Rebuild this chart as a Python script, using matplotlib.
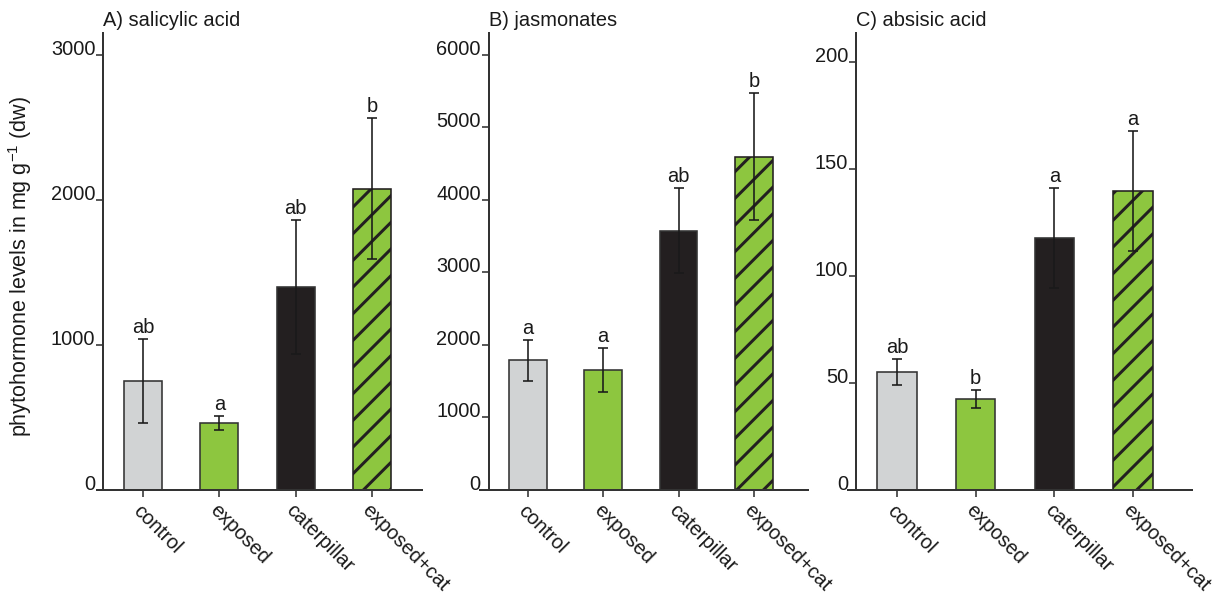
import matplotlib
matplotlib.use("Agg")
import matplotlib.pyplot as plt
from matplotlib.ticker import FixedLocator

# ---- data -------------------------------------------------------------
categories = ["control", "exposed", "caterpillar", "exposed+cat"]

sa_mean = [752, 462, 1400, 2076]
sa_err = [288, 48, 460, 487]
sa_letters = ["ab", "a", "ab", "b"]

ja_mean = [1788, 1650, 3576, 4594]
ja_err = [283, 303, 585, 873]
ja_letters = ["a", "a", "ab", "b"]

aba_mean = [55.1, 42.5, 117.8, 139.7]
aba_err = [6.0, 4.2, 23.4, 28.0]
aba_letters = ["ab", "b", "a", "a"]

sa_ticks = [0, 1000, 2000, 3000]
ja_ticks = [0, 1000, 2000, 3000, 4000, 5000, 6000]
aba_ticks = [0, 50, 100, 150, 200]

titles = ["A) salicylic acid", "B) jasmonates", "C) absisic acid"]

# ---- style ------------------------------------------------------------
DPI = 160
W, H = 1215, 594
PX = 72.0 / DPI  # points per pixel

plt.rcParams["font.family"] = ["Liberation Sans", "DejaVu Sans"]
plt.rcParams["mathtext.fontset"] = "custom"
plt.rcParams["mathtext.rm"] = "Liberation Sans"
plt.rcParams["hatch.linewidth"] = 3.0 * PX
plt.rcParams["hatch.color"] = "#231f20"

FS = 20 * PX
face = ["#d1d3d4", "#8dc63f", "#231f20", "#8dc63f"]
hatches = [None, None, None, "//"]
edge = "#333333"
spine_col = "#333333"
text_col = "#1a1a1a"
hatch_col = "#231f20"

fig = plt.figure(figsize=(W / DPI, H / DPI), dpi=DPI)

top_px, bot_px = 33, 490
panels = [
    dict(l=97, r=422, xlim=(-0.603, 3.657), ylim=3150, mean=sa_mean, err=sa_err,
         let=sa_letters, ticks=sa_ticks),
    dict(l=480, r=808, xlim=(-0.637, 3.72), ylim=6300, mean=ja_mean, err=ja_err,
         let=ja_letters, ticks=ja_ticks),
    dict(l=848, r=1192, xlim=(-0.623, 3.75), ylim=213.5, mean=aba_mean, err=aba_err,
         let=aba_letters, ticks=aba_ticks),
]

x = list(range(len(categories)))

for p, title in zip(panels, titles):
    ax = fig.add_axes([p["l"] / W, 1 - bot_px / H, (p["r"] - p["l"]) / W,
                       (bot_px - top_px) / H])
    ax.set_xlim(*p["xlim"])
    ax.set_ylim(0, p["ylim"])

    bars = ax.bar(x, p["mean"], width=0.5, color=face, edgecolor=edge,
                  linewidth=1.6 * PX, zorder=2)
    for b, h in zip(bars, hatches):
        if h:
            b.set_hatch(h)
            if hasattr(b, "set_hatchcolor"):
                b.set_hatchcolor(hatch_col)
                b.set_edgecolor("#555555")
            else:
                b.set_edgecolor(hatch_col)
    ax.errorbar(x, p["mean"], yerr=p["err"], fmt="none", ecolor=text_col,
                elinewidth=1.6 * PX, capsize=5 * PX, capthick=1.6 * PX, zorder=3)

    for xi, m, e, lab in zip(x, p["mean"], p["err"], p["let"]):
        ax.annotate(lab, (xi, m + e), xytext=(0, 6 * PX), textcoords="offset points",
                    ha="center", va="baseline", fontsize=FS, color=text_col)

    for s in ("top", "right"):
        ax.spines[s].set_visible(False)
    ax.spines["left"].set_position(("data", -0.52))
    for s in ("left", "bottom"):
        ax.spines[s].set_color(spine_col)
        ax.spines[s].set_linewidth(2.0 * PX)

    ax.yaxis.set_major_locator(FixedLocator(p["ticks"]))
    ax.set_yticklabels([str(t) for t in p["ticks"]], fontsize=FS, va="baseline")
    ax.tick_params(axis="y", length=7 * PX, width=1.6 * PX, pad=1 * PX,
                   color=spine_col, labelcolor=text_col)

    ax.set_xticks(x)
    ax.set_xticklabels(categories, fontsize=FS, rotation=-45, ha="left", va="top",
                       rotation_mode="anchor")
    ax.tick_params(axis="x", length=7 * PX, width=1.6 * PX, pad=4 * PX,
                   color=spine_col, labelcolor=text_col)

    left_px = p["l"] + (-0.52 - p["xlim"][0]) / (p["xlim"][1] - p["xlim"][0]) * (p["r"] - p["l"])
    fig.text(left_px / W, 1 - 26 / H, title, fontsize=FS, ha="left", va="baseline",
             color=text_col)

fig.text(20 / W, 1 - 266 / H, r"phytohormone levels in mg g$^{\mathregular{-1}}$ (dw)",
         rotation=90, ha="center", va="center", fontsize=21.5 * PX, color=text_col)

fig.savefig("out.png", dpi=DPI)
